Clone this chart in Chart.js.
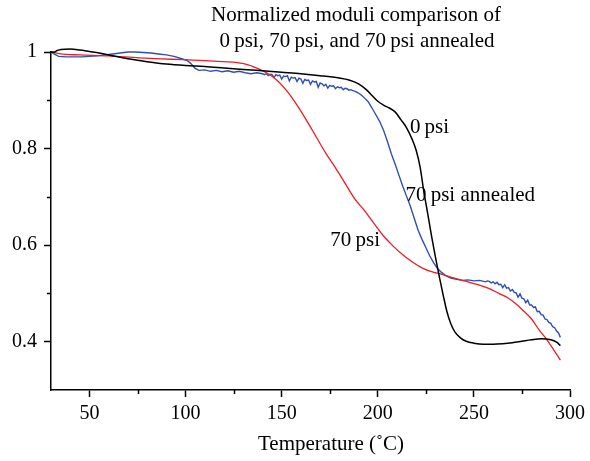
<!DOCTYPE html>
<html>
<head>
<meta charset="utf-8">
<script src="https://cdn.jsdelivr.net/npm/chart.js@4.4.1/dist/chart.umd.min.js"></script>
<style>
  body { margin: 0; background: #fff; }
  #wrap { width: 590px; height: 461px; }
</style>
</head>
<body>
<div id="wrap"><canvas id="myChart"></canvas></div>
<script>
// 0 psi
let temp0 = [30, 32, 33, 35, 40, 45, 50, 55, 60, 70, 80, 90, 100, 110, 120, 130, 140, 150, 160, 170,
  180, 185, 190, 194, 197, 200, 203, 206, 209, 212, 215, 218, 220, 222, 224, 226, 228, 230, 232, 234,
  236, 238, 240, 243, 246, 250, 255, 260, 265, 270, 275, 280, 285, 290, 293, 295];
let mod0 = [1.0, 1.0, 1.003, 1.005, 1.006, 1.004, 1.001, 0.998, 0.994, 0.986, 0.98, 0.975, 0.972, 0.97, 0.967, 0.964, 0.961, 0.958, 0.955, 0.951,
  0.946, 0.942, 0.934, 0.922, 0.91, 0.898, 0.89, 0.884, 0.876, 0.86, 0.843, 0.818, 0.796, 0.762, 0.71, 0.665, 0.618, 0.575, 0.535, 0.497,
  0.462, 0.437, 0.421, 0.408, 0.401, 0.397, 0.395, 0.395, 0.396, 0.398, 0.401, 0.404, 0.406, 0.404, 0.399, 0.392];

// 70 psi
let temp70 = [30, 35, 45, 60, 76, 93, 110, 120, 127, 133, 138, 143, 148, 153, 158, 163, 168, 173, 178, 183,
  188, 193, 198, 203, 208, 213, 218, 223, 228, 233, 238, 245, 252, 258, 263, 268, 272, 276, 280, 284,
  288, 292, 295];
let mod70 = [1.0, 0.996, 0.994, 0.992, 0.988, 0.985, 0.982, 0.98, 0.978, 0.973, 0.965, 0.955, 0.94, 0.918, 0.89, 0.858, 0.824, 0.79, 0.76, 0.728,
  0.696, 0.672, 0.645, 0.619, 0.598, 0.58, 0.565, 0.553, 0.545, 0.54, 0.534, 0.526, 0.518, 0.51, 0.5, 0.49, 0.478, 0.463, 0.447, 0.424,
  0.404, 0.38, 0.362];

// 70 psi annealed (noisy trace)
let tempAnn = [30, 32, 34, 38, 42, 46, 50, 54, 58, 62, 66, 70, 74, 78, 82, 86, 90, 94, 98, 101,
  103, 105, 107, 110, 113, 116, 119, 122, 125, 128, 131, 134, 137,
  140, 141, 142, 143, 144, 145, 146, 147, 148, 149, 150, 151, 152, 153, 154, 155, 156, 157, 158, 159,
  160, 161, 162, 163, 164, 165, 166, 167, 168, 169, 170, 171, 172, 173, 174, 175, 176, 177, 178, 179,
  180, 181, 182, 183, 184, 185, 186, 187, 188, 189, 190, 191, 192,
  193, 195, 197, 199, 201, 203, 205, 207, 209, 211, 213, 215, 217, 219, 221, 223, 225, 227, 229, 231,
  233, 235, 238, 241, 244, 247, 250, 253,
  256, 257, 258, 259, 260, 261, 262, 263, 264, 265, 266, 267, 268, 269, 270, 271, 272, 273, 274, 275,
  276, 277, 278, 279, 280, 281, 282, 283, 284, 285, 286, 287, 288, 289, 290, 291, 292, 293, 294, 295];
let modAnn = [1.0, 0.995, 0.991, 0.99, 0.99, 0.99, 0.991, 0.992, 0.994, 0.996, 0.998, 1.0, 1.0, 0.999, 0.998, 0.996, 0.994, 0.991, 0.986, 0.982,
  0.975, 0.966, 0.962, 0.963, 0.96, 0.962, 0.959, 0.961, 0.958, 0.96, 0.957, 0.955, 0.957,
  0.955, 0.953, 0.955, 0.951, 0.954, 0.953, 0.947, 0.953, 0.951, 0.952, 0.944, 0.95, 0.949, 0.951, 0.94, 0.948, 0.946, 0.947, 0.939, 0.946,
  0.944, 0.935, 0.943, 0.941, 0.942, 0.933, 0.94, 0.938, 0.939, 0.927, 0.936, 0.934, 0.93, 0.933, 0.925, 0.931, 0.929, 0.93, 0.924, 0.928,
  0.926, 0.927, 0.922, 0.925, 0.924, 0.921, 0.922, 0.92, 0.919, 0.917, 0.915, 0.912, 0.909,
  0.905, 0.897, 0.884, 0.87, 0.856, 0.838, 0.815, 0.79, 0.768, 0.745, 0.722, 0.701, 0.68, 0.655, 0.631, 0.612, 0.595, 0.578, 0.564, 0.552,
  0.544, 0.538, 0.532, 0.529, 0.527, 0.528, 0.526, 0.527,
  0.524, 0.526, 0.525, 0.522, 0.524, 0.52, 0.523, 0.518, 0.519, 0.512, 0.518, 0.511, 0.512, 0.505, 0.508, 0.502, 0.501, 0.492, 0.499, 0.49,
  0.489, 0.481, 0.486, 0.476, 0.476, 0.471, 0.472, 0.462, 0.463, 0.456, 0.455, 0.447, 0.446, 0.44, 0.438, 0.431, 0.429, 0.422, 0.418, 0.409];

let xTicks = [50, 100, 150, 200, 250, 300];
let xMinor = [75, 125, 175, 225, 275];
let yTicks = [0.4, 0.6, 0.8, 1];
let yMinor = [0.5, 0.7, 0.9];

let titleLines = ['Normalized moduli comparison of', '0\u2009psi, 70\u2009psi, and 70\u2009psi annealed'];
let xTitle = 'Temperature (\u02DAC)';

let serif = "'Liberation Serif', 'DejaVu Serif', serif";
Chart.defaults.font.family = serif;
Chart.defaults.font.size = 20;
Chart.defaults.color = '#000';

function pairs(xs, ys) {
  return xs.map((x, i) => ({ x: x, y: ys[i] }));
}

// minor ticks, titles and the curve labels
let extras = {
  id: 'extras',
  afterDraw(chart) {
    let ctx = chart.ctx;
    let xs = chart.scales.x, ys = chart.scales.y;
    ctx.save();
    ctx.strokeStyle = '#000';
    ctx.lineWidth = 1.5;
    xMinor.forEach(v => {
      let px = Math.round(xs.getPixelForValue(v)) + 0.5;
      ctx.beginPath(); ctx.moveTo(px, xs.top); ctx.lineTo(px, xs.top + 4); ctx.stroke();
    });
    yMinor.forEach(v => {
      let py = Math.round(ys.getPixelForValue(v)) + 0.5;
      ctx.beginPath(); ctx.moveTo(ys.right, py); ctx.lineTo(ys.right - 4, py); ctx.stroke();
    });

    ctx.fillStyle = '#000';
    ctx.font = '21px ' + serif;
    ctx.textBaseline = 'alphabetic';
    ctx.textAlign = 'center';
    ctx.fillText(titleLines[0], 356, 21);
    ctx.fillText(titleLines[1], 357, 47);
    ctx.fillText(xTitle, 331, 450);

    ctx.textAlign = 'left';
    ctx.fillText('0\u2009psi', xs.getPixelForValue(216.7), ys.getPixelForValue(0.833));
    ctx.fillText('70\u2009psi annealed', xs.getPixelForValue(214.4), ys.getPixelForValue(0.692));
    ctx.fillText('70\u2009psi', xs.getPixelForValue(175.3), ys.getPixelForValue(0.598));
    ctx.restore();
  }
};

let myChart = document.getElementById('myChart').getContext('2d');

let chart = new Chart(myChart, {
  type: 'line',
  data: {
    datasets: [
      {
        label: '0 psi',
        data: pairs(temp0, mod0),
        borderColor: '#000000',
        borderWidth: 1.5,
        cubicInterpolationMode: 'monotone',
        clip: false
      },
      {
        label: '70 psi',
        data: pairs(temp70, mod70),
        borderColor: '#ee1c24',
        borderWidth: 1.3,
        cubicInterpolationMode: 'monotone',
        clip: false
      },
      {
        label: '70 psi annealed',
        data: pairs(tempAnn, modAnn),
        borderColor: '#2f50b0',
        borderWidth: 1.4,
        tension: 0,
        clip: false
      }
    ]
  },
  options: {
    responsive: true,
    maintainAspectRatio: false,
    animation: false,
    elements: { point: { radius: 0 } },
    layout: { padding: { top: 52, right: 17, left: 0, bottom: 0 } },
    plugins: {
      legend: { display: false },
      tooltip: { enabled: false }
    },
    scales: {
      x: {
        type: 'linear',
        min: 30,
        max: 300,
        afterBuildTicks: s => { s.ticks = xTicks.map(v => ({ value: v })); },
        afterFit: s => { s.height = 71; },
        ticks: { padding: 5, maxRotation: 0, font: { size: 20 } },
        grid: { drawOnChartArea: false, tickLength: 7, tickColor: '#000', tickWidth: 1.5 },
        border: { display: true, color: '#000', width: 1.5 }
      },
      y: {
        type: 'linear',
        min: 0.3,
        max: 1,
        afterBuildTicks: s => { s.ticks = yTicks.map(v => ({ value: v })); },
        afterFit: s => { s.width = 51; },
        ticks: {
          padding: 7,
          font: { size: 20 },
          callback: v => (v === 1 ? '1' : v.toFixed(1))
        },
        grid: { drawOnChartArea: false, tickLength: 7, tickColor: '#000', tickWidth: 1.5 },
        border: { display: true, color: '#000', width: 1.5 }
      }
    }
  },
  plugins: [extras]
});
</script>
</body>
</html>
